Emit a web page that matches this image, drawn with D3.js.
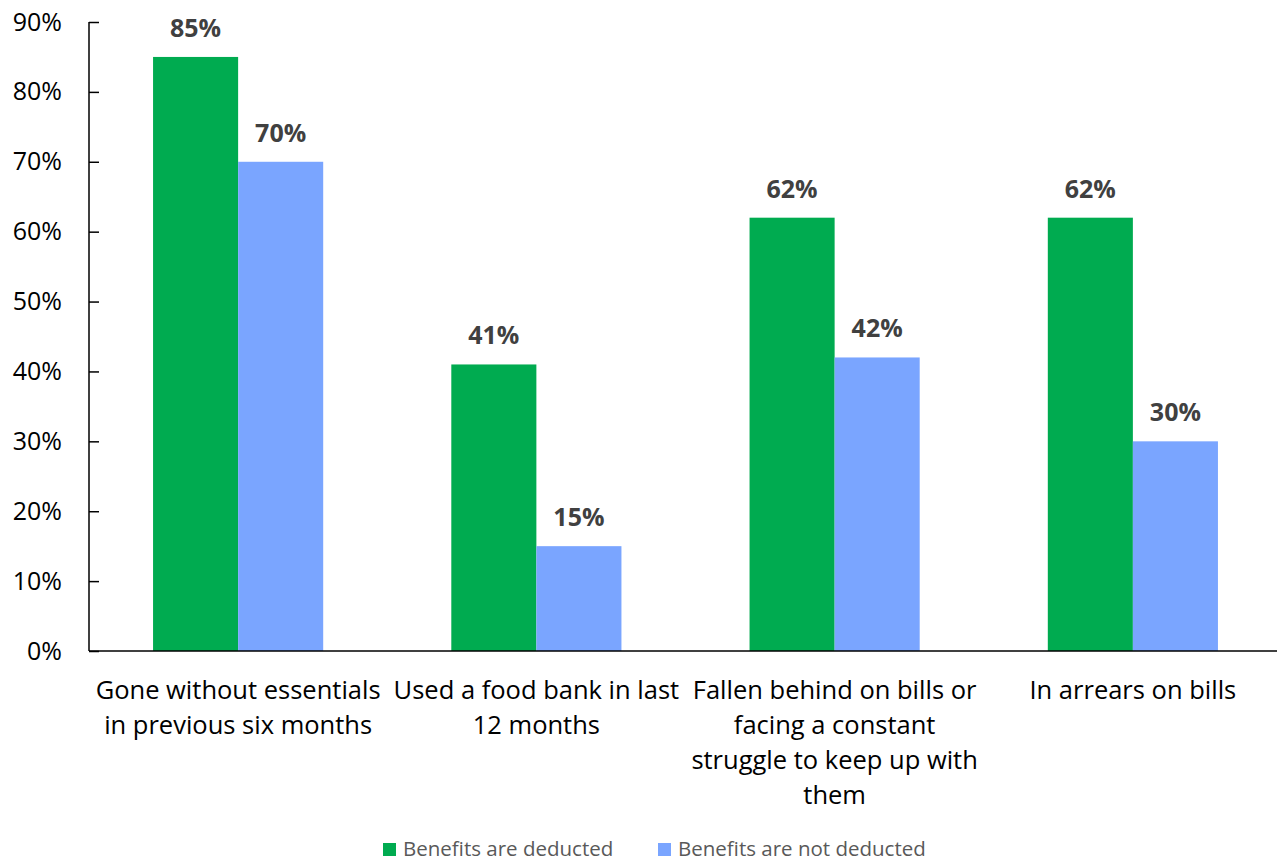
<!DOCTYPE html>
<html>
<head>
<meta charset="utf-8">
<script src="https://cdn.jsdelivr.net/npm/d3@7"></script>
<style>
  html, body { margin: 0; padding: 0; background: #fff; }
  svg { display: block; font-family: "Open Sans", Lato, sans-serif; }
</style>
</head>
<body>
<svg id="chart" width="1277" height="862"></svg>
<script>
// Survey categories (each line of a wrapped label is one entry)
const categories = [
  "Gone without essentials",
  "Used a food bank",
  "Fallen behind on bills",
  "In arrears on bills"
];
const categoryLines = [
  ["Gone without essentials", "in previous six months"],
  ["Used a food bank in last", "12 months"],
  ["Fallen behind on bills or", "facing a constant", "struggle to keep up with", "them"],
  ["In arrears on bills"]
];
const seriesNames = ["Benefits are deducted", "Benefits are not deducted"];
const deducted = [85, 41, 62, 62];
const notDeducted = [70, 15, 42, 30];
const yTicks = [0, 10, 20, 30, 40, 50, 60, 70, 80, 90];
const colors = ["#00AB50", "#7AA5FF"];

const svg = d3.select("#chart");
const margin = { left: 89, right: -5, top: 22, bottom: 211 };
const W = 1277, H = 862;
const plotW = W - margin.left - margin.right;
const plotH = H - margin.top - margin.bottom;

const g = svg.append("g").attr("transform", `translate(${margin.left},${margin.top})`);

const x0 = d3.scaleBand().domain(categories).range([0, plotW]).paddingInner(128 / 298).paddingOuter(64 / 298);
const x1 = d3.scaleBand().domain(seriesNames).range([0, x0.bandwidth()]);
const y = d3.scaleLinear().domain([0, 90]).range([plotH, 0]);

// Bars with value labels
const series = [deducted, notDeducted];
categories.forEach((cat, i) => {
  seriesNames.forEach((s, j) => {
    const v = series[j][i];
    g.append("rect")
      .attr("x", x0(cat) + x1(s))
      .attr("y", y(v))
      .attr("width", x1.bandwidth())
      .attr("height", y(0) - y(v))
      .attr("fill", colors[j]);
    g.append("text")
      .attr("x", x0(cat) + x1(s) + x1.bandwidth() / 2)
      .attr("y", y(v) - 20)
      .attr("text-anchor", "middle")
      .attr("font-size", 25)
      .attr("font-weight", "bold")
      .attr("fill", "#404040")
      .text(v + "%");
  });
});

// Y axis
const yAxis = d3.axisLeft(y).tickValues(yTicks).tickFormat(d => d + "%").tickSize(-10).tickPadding(27);
const ya = g.append("g").call(yAxis);
ya.select(".domain").attr("stroke", "#000").attr("stroke-width", 1.5).attr("d", `M0,${y(90)}V${y(0)}`);
ya.selectAll(".tick line").attr("stroke", "#000").attr("stroke-width", 1.5);
ya.selectAll(".tick text").attr("font-size", 25).attr("fill", "#000").attr("font-family", "'Open Sans', sans-serif");

// X axis baseline
g.append("line")
  .attr("x1", 0).attr("x2", plotW)
  .attr("y1", y(0)).attr("y2", y(0))
  .attr("stroke", "#000").attr("stroke-width", 1.5);

// Category labels
categories.forEach((cat, i) => {
  const t = g.append("text")
    .attr("x", x0(cat) + x0.bandwidth() / 2)
    .attr("y", y(0) + 48)
    .attr("text-anchor", "middle")
    .attr("font-size", 25.5)
    .attr("fill", "#000");
  categoryLines[i].forEach((line, k) => {
    t.append("tspan")
      .attr("x", x0(cat) + x0.bandwidth() / 2)
      .attr("dy", k === 0 ? 0 : 35)
      .text(line);
  });
});

// Legend
const legendItems = [{ x: 383, name: seriesNames[0], c: colors[0] }, { x: 658, name: seriesNames[1], c: colors[1] }];
legendItems.forEach(it => {
  svg.append("rect").attr("x", it.x).attr("y", 843).attr("width", 13).attr("height", 13).attr("fill", it.c);
  svg.append("text").attr("x", it.x + 20).attr("y", 856)
    .attr("font-size", 20.5).attr("fill", "#595959").text(it.name);
});
</script>
</body>
</html>
